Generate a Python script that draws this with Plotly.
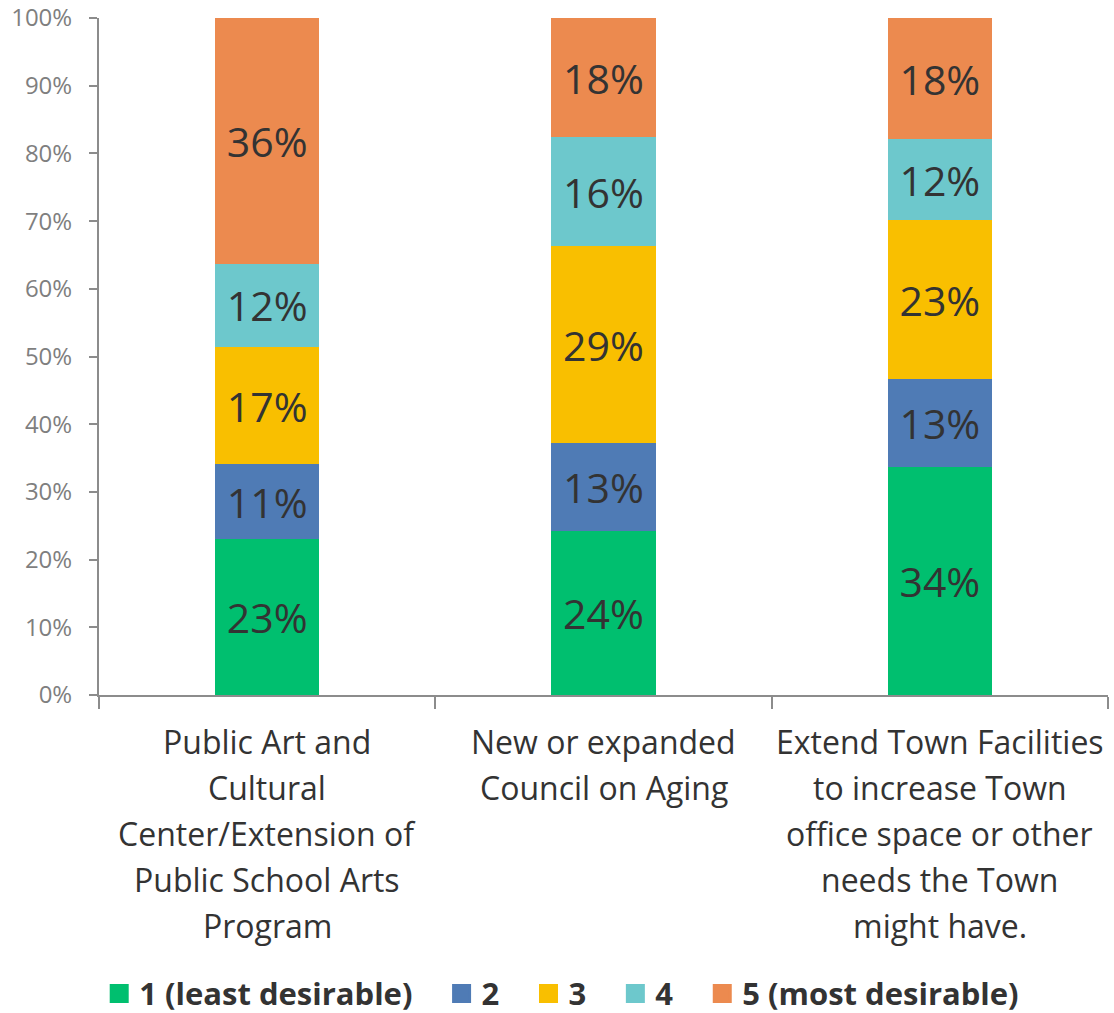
import plotly.graph_objects as go

categories = ["Public Art and Cultural Center/Extension of Public School Arts Program",
              "New or expanded Council on Aging",
              "Extend Town Facilities to increase Town office space or other needs the Town might have."]
category_lines = [
    ["Public Art and", "Cultural", "Center/Extension of", "Public School Arts", "Program"],
    ["New or expanded", "Council on Aging"],
    ["Extend Town Facilities", "to increase Town", "office space or other", "needs the Town", "might have."],
]
series_names = ["1 (least desirable)", "2", "3", "4", "5 (most desirable)"]
series_values = [
    [23.0, 24.2, 33.7],
    [11.1, 13.0, 13.0],
    [17.3, 29.1, 23.4],
    [12.3, 16.1, 12.0],
    [36.3, 17.6, 17.9],
]
colors = ["#00BF6F", "#4F7BB5", "#F9BF00", "#6DC8CC", "#EC8A4F"]
y_ticks = [0, 10, 20, 30, 40, 50, 60, 70, 80, 90, 100]
y_tick_labels = [f"{v}%" for v in y_ticks]

fig = go.Figure()
for name, vals, col in zip(series_names, series_values, colors):
    fig.add_trace(go.Bar(
        x=categories, y=vals, name=name, showlegend=False,
        marker=dict(color=col, line=dict(width=0)),
        width=0.31,
        text=[f"{v:.0f}%" for v in vals],
        textposition="inside", insidetextanchor="middle", textangle=0,
        constraintext="none",
        textfont=dict(family="Open Sans", size=41, color="#333333"),
        hoverinfo="skip",
    ))
# legend entries with larger square swatches
for name, col in zip(series_names, colors):
    fig.add_trace(go.Scatter(
        x=[None], y=[None], mode="markers", name=name + "\u00a0" * 3,
        marker=dict(symbol="square", size=16, color=col, line=dict(color=col, width=3)),
        showlegend=True, hoverinfo="skip",
    ))

for cat, lines in zip(categories, category_lines):
    for i, line in enumerate(lines):
        fig.add_annotation(
            x=cat, xref="x", y=0, yref="paper", yanchor="top",
            yshift=-23 - 46 * i, text=line, showarrow=False,
            font=dict(family="Open Sans", size=32, color="#333333"),
        )

fig.update_layout(
    barmode="stack",
    width=1114, height=1013,
    margin=dict(l=99, r=6, t=18, b=318, autoexpand=False),
    paper_bgcolor="white", plot_bgcolor="white",
    showlegend=True,
    legend=dict(orientation="h", x=0.515, xanchor="center", xref="container",
                y=0.019, yanchor="middle", yref="container",
                font=dict(family="Open Sans", size=31, color="#333333", weight="bold"),
                itemsizing="trace", traceorder="normal", itemwidth=30),
    xaxis=dict(showticklabels=False, showline=True, linecolor="#8c8c8c", linewidth=2,
               ticks="outside", tickson="boundaries", ticklen=12, tickcolor="#8c8c8c",
               tickwidth=2, showgrid=False, fixedrange=True, automargin=False),
    yaxis=dict(range=[0, 100], tickmode="array", tickvals=y_ticks, ticktext=y_tick_labels,
               showline=True, linecolor="#8c8c8c", linewidth=2, ticks="outside", ticklen=8,
               tickcolor="#8c8c8c", tickwidth=2, showgrid=False, zeroline=False,
               fixedrange=True, automargin=False, ticklabelstandoff=12,
               tickfont=dict(family="Open Sans", size=24, color="#7f7f7f")),
)

fig.write_html("out.html", config={"displayModeBar": False})
with open("out.html", "r", encoding="utf-8") as f:
    html = f.read()
html = html.replace("<body>", '<body style="margin:0;padding:0;">', 1)
with open("out.html", "w", encoding="utf-8") as f:
    f.write(html)
